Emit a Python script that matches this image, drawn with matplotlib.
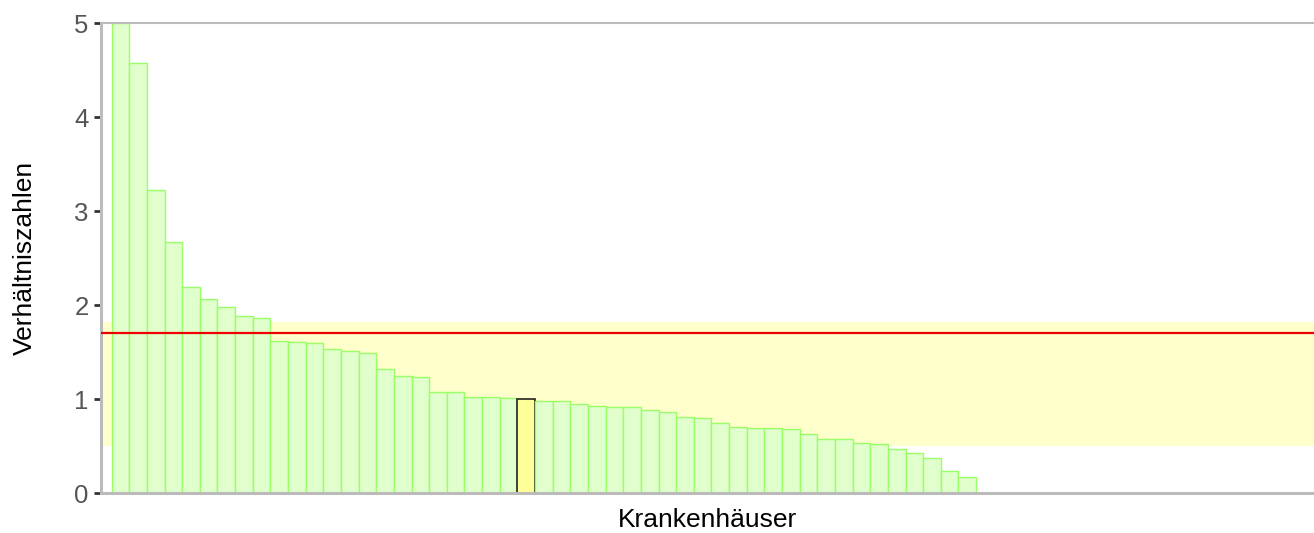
import numpy as np
import matplotlib.pyplot as plt

plt.rcParams['font.family'] = ['Liberation Sans', 'DejaVu Sans']

# Verhältniszahlen je Krankenhaus (absteigend sortiert)
werte = [5.0, 4.57, 3.22, 2.67, 2.19, 2.06, 1.98, 1.88, 1.86, 1.62,
         1.61, 1.60, 1.53, 1.51, 1.49, 1.32, 1.25, 1.23, 1.08, 1.07,
         1.02, 1.02, 1.01, 1.00, 0.98, 0.98, 0.95, 0.93, 0.92, 0.91,
         0.88, 0.86, 0.81, 0.80, 0.75, 0.70, 0.69, 0.69, 0.68, 0.63,
         0.57, 0.57, 0.53, 0.52, 0.47, 0.43, 0.37, 0.23, 0.17]
markiert = 23          # hervorgehobenes Krankenhaus
mittelwert = 1.705
band_unten = 0.5
band_oben = 1.82
yticks = [0, 1, 2, 3, 4, 5]

fig = plt.figure(figsize=(13.14, 5.33), dpi=100)
ax = fig.add_axes([0.0769, 0.075, 0.9231, 0.8818])

x = np.arange(len(werte))
farben = ['#ffff99' if i == markiert else '#e0ffcc' for i in x]
kanten = ['#222222' if i == markiert else '#99ff66' for i in x]
breiten = [1.2 if i == markiert else 1.0 for i in x]

ax.axhspan(band_unten, band_oben, color='#ffffcc', zorder=0, lw=0)
ax.bar(x, werte, width=1.0, color=farben, edgecolor=kanten, linewidth=breiten, zorder=2)
ax.axhline(mittelwert, color='#ee0000', lw=1.6, zorder=3)

ax.set_xlim(-1.1, 67.65)
ax.set_ylim(0, 5)
ax.set_yticks(yticks)
ax.set_xticks([])
ax.tick_params(axis='y', labelsize=18.5, labelcolor='#555555', color='#333333',
               length=5, width=2, pad=4)

for s in ['left', 'bottom']:
    ax.spines[s].set_color('#bbbbbb')
    ax.spines[s].set_linewidth(2.2)
ax.spines['top'].set_color('#bbbbbb')
ax.spines['top'].set_linewidth(1.5)
ax.spines['right'].set_visible(False)

ax.set_ylabel('Verhältniszahlen', fontsize=19, color='#000000', labelpad=27)
ax.set_xlabel('Krankenhäuser', fontsize=19, color='#000000', labelpad=11)

fig.savefig('out.png', dpi=100)
